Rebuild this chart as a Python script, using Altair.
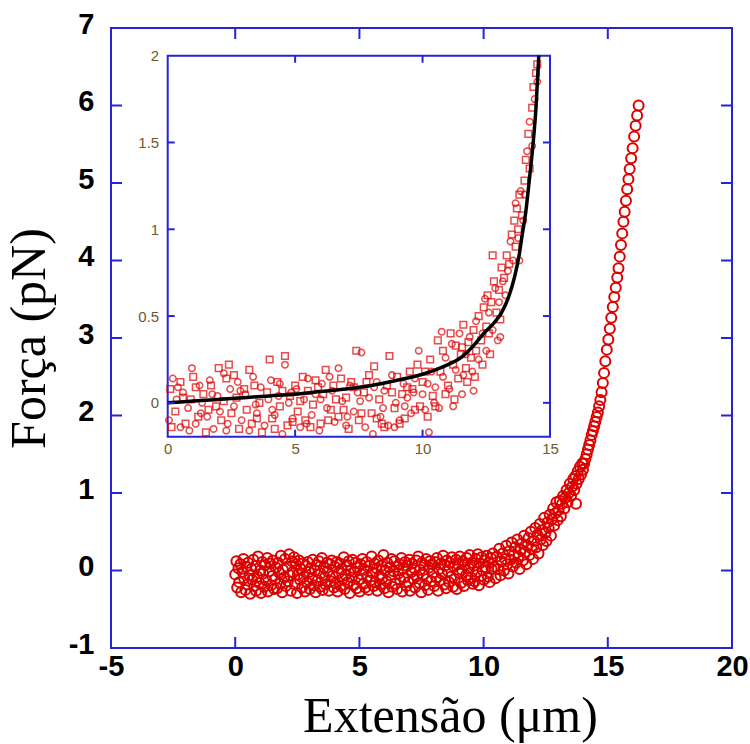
import altair as alt
import pandas as pd

# ---------------- main plot data (Extensão µm, Força pN) ----------------
flat_x = [0.00,0.05,0.08,0.13,0.16,0.21,0.24,0.29,0.33,0.36,0.41,0.44,0.49,0.52,0.57,0.60,0.65,0.68,0.73,0.77,
          0.81,0.84,0.89,0.92,0.97,1.01,1.04,1.09,1.12,1.17,1.21,1.24,1.29,1.32,1.37,1.41,1.44,1.49,1.52,1.57,
          1.61,1.64,1.69,1.72,1.77,1.81,1.84,1.89,1.92,1.97,2.01,2.04,2.09,2.12,2.17,2.21,2.24,2.29,2.32,2.37,
          2.41,2.44,2.49,2.52,2.57,2.61,2.64,2.69,2.72,2.77,2.81,2.84,2.89,2.92,2.97,3.01,3.04,3.09,3.12,3.17,
          3.21,3.24,3.29,3.32,3.37,3.41,3.44,3.49,3.52,3.57,3.61,3.64,3.69,3.72,3.77,3.81,3.84,3.89,3.92,3.97,
          4.01,4.04,4.09,4.12,4.17,4.21,4.24,4.29,4.32,4.37,4.41,4.44,4.49,4.52,4.57,4.61,4.64,4.69,4.72,4.77,
          4.81,4.84,4.89,4.92,4.97,5.01,5.04,5.09,5.12,5.17,5.21,5.24,5.29,5.32,5.37,5.41,5.44,5.49,5.52,5.57,
          5.61,5.64,5.69,5.72,5.77,5.81,5.84,5.89,5.92,5.97,6.01,6.04,6.09,6.12,6.17,6.21,6.24,6.29,6.32,6.37,
          6.41,6.44,6.49,6.52,6.57,6.61,6.64,6.69,6.72,6.77,6.81,6.84,6.89,6.92,6.97,7.01,7.04,7.09,7.12,7.17,
          7.21,7.24,7.29,7.32,7.37,7.41,7.44,7.49,7.52,7.57,7.61,7.64,7.69,7.72,7.77,7.81,7.84,7.89,7.92,7.97,
          8.01,8.04,8.09,8.12,8.17,8.21,8.24,8.29,8.32,8.37,8.41,8.44,8.49,8.52,8.57,8.61,8.64,8.69,8.72,8.77,
          8.81,8.84,8.89,8.92,8.97,9.01,9.04,9.09,9.12,9.17,9.21,9.24,9.29,9.32,9.37,9.41,9.44,9.49,9.52,9.57,
          9.61,9.64,9.69,9.72,9.77,9.81,9.84,9.89,9.92,9.97,10.01,10.04,10.09,10.12,10.17,10.21,10.24,10.29,10.32,10.37]
flat_y = [-0.05,0.12,-0.22,0.03,-0.15,0.08,-0.28,-0.02,0.15,-0.10,-0.25,0.05,-0.18,0.10,-0.06,-0.30,0.02,-0.12,0.14,-0.20,
          0.06,-0.26,-0.08,0.18,-0.16,0.00,-0.29,0.11,-0.04,-0.21,0.07,-0.13,0.16,-0.27,-0.01,0.09,-0.19,-0.07,0.13,-0.24,
          -0.11,0.04,-0.23,0.10,-0.03,-0.17,0.19,-0.28,0.01,-0.09,0.15,-0.20,0.05,-0.14,0.21,-0.06,-0.26,0.12,-0.02,0.17,
          -0.18,0.08,-0.29,-0.05,0.13,-0.12,0.02,-0.22,0.09,-0.08,-0.27,0.06,-0.15,0.11,-0.02,-0.24,0.03,-0.10,0.14,-0.19,
          0.00,-0.28,0.07,-0.13,0.12,-0.21,-0.04,0.16,-0.25,0.04,-0.09,-0.18,0.10,-0.01,-0.26,0.08,-0.14,0.13,-0.07,-0.22,
          0.05,-0.16,0.11,-0.27,-0.03,0.09,-0.20,0.02,-0.11,0.17,-0.24,-0.06,0.07,-0.15,0.12,-0.29,0.00,-0.09,0.14,-0.19,
          -0.02,0.10,-0.23,0.04,-0.12,-0.27,0.08,-0.05,0.15,-0.17,0.01,-0.22,0.11,-0.08,-0.25,0.06,-0.13,0.18,-0.03,-0.20,
          0.09,-0.15,0.03,-0.26,0.13,-0.07,-0.18,0.06,-0.10,0.20,-0.23,0.00,-0.14,0.10,-0.28,0.04,-0.06,0.15,-0.21,-0.01,
          0.12,-0.17,0.05,-0.24,-0.04,0.08,-0.12,0.16,-0.27,0.02,-0.09,0.11,-0.20,0.06,-0.15,0.14,-0.26,-0.02,0.09,-0.11,
          0.03,-0.22,0.13,-0.07,0.18,-0.16,0.01,-0.28,0.10,-0.05,0.07,-0.19,0.15,-0.11,-0.25,0.04,0.12,-0.14,0.08,-0.03,
          -0.20,0.11,-0.09,0.16,-0.26,0.02,-0.13,0.09,-0.04,0.19,-0.18,0.06,-0.23,0.13,-0.01,-0.15,0.10,-0.08,0.17,-0.21,
          0.05,-0.11,0.14,-0.24,0.08,-0.03,0.18,-0.16,0.01,0.12,-0.20,0.07,-0.06,0.16,-0.13,0.03,0.20,-0.09,0.10,-0.17,
          0.06,-0.14,0.15,-0.02,0.21,-0.19,0.09,-0.07,0.17,0.00,-0.12,0.13,0.04,0.19,-0.08,0.10,-0.15,0.16,0.02,0.22]

rise_x = [10.42,10.48,10.53,10.58,10.63,10.68,10.72,10.77,10.82,10.86,10.91,10.95,11.00,11.04,11.09,11.13,11.18,11.22,
          11.27,11.31,11.36,11.40,11.45,11.49,11.54,11.58,11.63,11.67,11.72,11.76,11.81,11.85,11.90,11.94,11.99,12.03,
          12.08,12.12,12.17,12.21,12.26,12.30,12.35,12.39,12.44,12.48,12.53,12.57,12.62,12.66,12.71,12.75,12.80,12.84,
          12.89,12.93,12.98,13.02,13.07,13.11,13.16,13.20,13.25,13.29,13.34,13.38,13.43,13.47,13.52,13.56,13.61,13.65,
          13.70,13.74,13.79,13.83,13.88,13.92,13.97,13.72,
          14.00,14.05,14.10,14.15,14.20,14.25,14.30,14.35,14.40,14.45,14.50,14.55,14.60,14.65,14.70,14.75,14.80,14.85,
          14.90,14.96,15.02,15.08,15.14,15.20,15.26,15.32,15.38,15.43,15.48,15.53,15.58,15.63,15.68,15.73,15.78,15.83,
          15.88,15.94,16.00,16.06,16.12,16.18,16.24]
rise_y = [0.05,-0.10,0.18,0.02,0.28,-0.06,0.12,0.22,0.00,0.15,0.32,0.08,-0.04,0.25,0.14,0.36,0.05,0.20,
          0.30,0.10,0.40,0.18,0.02,0.27,0.35,0.13,0.45,0.24,0.08,0.32,0.42,0.20,0.50,0.28,0.15,0.38,
          0.55,0.30,0.46,0.22,0.60,0.40,0.52,0.33,0.68,0.48,0.38,0.62,0.55,0.72,0.45,0.66,0.80,0.58,
          0.74,0.88,0.65,0.78,0.90,0.70,0.86,0.96,0.80,0.94,1.04,0.88,1.00,1.12,0.96,1.08,1.18,1.04,
          1.22,1.12,1.28,1.18,1.34,1.24,1.38,0.86,
          1.30,1.38,1.44,1.50,1.56,1.62,1.68,1.75,1.80,1.86,1.92,1.98,2.04,2.12,2.20,2.30,2.42,2.55,
          2.70,2.85,2.98,3.12,3.26,3.40,3.53,3.65,3.78,3.90,4.05,4.20,4.35,4.50,4.63,4.77,4.92,5.05,
          5.18,5.32,5.45,5.60,5.74,5.87,6.00]

main_xticks = [-5, 0, 5, 10, 15, 20]
main_yticks = [-1, 0, 1, 2, 3, 4, 5, 6, 7]

# ---------------- inset data ----------------
sq_x = [0.1,0.3,0.5,0.7,0.9,1.0,1.2,1.4,1.5,1.7,1.9,2.0,2.1,2.3,2.4,2.5,2.7,2.8,3.0,3.1,3.3,3.4,3.6,3.7,3.9,4.0,
        4.1,4.3,4.4,4.6,4.7,4.8,5.0,5.1,5.3,5.4,5.5,5.7,5.8,6.0,6.1,6.2,6.4,6.5,6.7,6.8,7.0,7.1,7.3,7.4,7.5,7.7,
        7.8,8.0,8.1,8.3,8.4,8.6,8.7,8.9,9.0,9.2,9.3,9.5,9.6,9.8,9.9,10.0,10.2,10.3,10.4,10.6,10.7,10.8,11.0,11.1,
        11.2,11.3,11.4,11.5,11.6,11.7,11.8,11.9,12.0,12.1,12.2,12.3,12.4,12.5,12.55,12.6,12.7,12.8,12.9,13.0,13.1,
        13.2,13.3,13.4,13.5,13.6,13.65,13.7,13.75,13.8,13.9,14.0,14.05,14.15,14.2,14.3,14.35,14.45,14.5,
        0.15,0.6,1.1,1.6,2.2,2.6,3.2,3.5,4.2,4.5,4.9,5.2,5.6,5.9,6.3,6.6,6.9,7.2,7.6,7.9,8.2,8.5,8.8,9.1,9.4,9.7,
        10.1,10.5,10.9,11.25,11.55,11.75,12.05,12.35,12.65,12.75,13.05]
sq_y = [0.08,-0.05,0.12,-0.12,0.02,0.15,-0.08,0.05,-0.17,0.10,-0.02,0.20,-0.10,0.14,0.22,-0.06,0.03,-0.15,0.08,-0.04,
        -0.12,0.10,0.00,-0.17,0.06,0.25,-0.09,0.12,-0.02,0.27,-0.13,0.04,0.10,-0.05,0.15,-0.10,0.07,-0.01,0.13,-0.12,
        0.05,0.19,-0.04,0.10,-0.08,0.14,0.03,-0.15,0.09,0.30,-0.10,0.06,0.12,-0.06,0.21,0.02,-0.12,0.10,0.27,-0.03,
        0.15,0.05,-0.09,0.18,0.08,0.22,-0.02,0.12,-0.08,0.25,0.04,0.36,0.18,0.30,0.10,0.40,0.22,0.33,0.14,0.28,0.45,
        0.20,0.35,0.26,0.42,0.30,0.50,0.36,0.55,0.44,0.62,0.40,0.58,0.70,0.52,0.65,0.78,0.72,0.85,0.80,0.97,1.05,
        0.90,1.12,1.00,1.20,1.08,1.28,1.40,1.55,1.35,1.70,1.82,1.90,1.95,
        -0.14,0.03,0.09,-0.04,0.01,0.16,0.19,-0.09,-0.15,0.07,-0.11,0.01,-0.14,0.09,-0.10,0.02,-0.04,0.12,-0.06,0.16,
        -0.09,-0.14,0.06,-0.12,0.09,-0.04,0.18,-0.02,0.05,0.02,0.32,0.12,0.15,0.22,0.28,0.85,0.48]

ci_x = [0.05,0.2,0.35,0.5,0.6,0.8,0.95,1.1,1.25,1.35,1.55,1.65,1.8,1.95,2.05,2.2,2.35,2.45,2.6,2.75,2.9,3.05,3.2,
        3.35,3.5,3.65,3.8,3.95,4.05,4.2,4.35,4.5,4.6,4.75,4.9,5.05,5.2,5.35,5.5,5.65,5.8,5.95,6.05,6.25,6.35,6.55,
        6.7,6.85,7.0,7.15,7.3,7.45,7.6,7.75,7.9,8.05,8.2,8.35,8.5,8.65,8.8,8.95,9.1,9.25,9.4,9.55,9.7,9.85,10.0,
        10.1,10.25,10.35,10.5,10.65,10.75,10.9,11.05,11.15,11.3,11.45,11.55,11.7,11.85,11.95,12.1,12.2,12.35,12.45,
        12.6,12.75,12.85,13.0,13.05,13.15,13.25,13.35,13.45,13.55,13.65,13.75,13.85,13.95,14.0,14.1,14.2,14.3,14.4,14.5,
        0.4,0.85,1.3,1.75,2.3,2.85,3.45,4.1,4.4,4.85,5.45,6.0,6.45,7.05,7.55,8.1,8.45,8.9,9.3,9.65,10.2,10.45,10.8,
        11.2,11.6,12.0,12.5,12.95,13.8]
ci_y = [-0.10,0.14,0.02,-0.14,0.06,-0.03,0.20,-0.12,0.10,0.00,-0.08,0.13,-0.15,0.04,-0.05,0.17,-0.12,0.08,-0.02,0.12,
        -0.10,0.05,-0.16,0.15,-0.06,0.09,-0.13,0.02,0.13,-0.07,0.04,-0.18,0.22,0.00,-0.09,0.08,-0.14,0.02,0.14,-0.07,
        0.05,-0.16,0.11,-0.03,0.15,-0.11,0.20,0.01,-0.13,0.10,-0.05,0.06,0.29,-0.14,0.03,-0.18,0.12,-0.08,0.07,-0.13,
        0.16,0.00,-0.10,0.11,0.03,-0.06,0.14,0.30,0.05,-0.04,-0.17,0.18,0.09,-0.03,0.41,0.26,0.08,0.34,0.19,0.40,
        0.05,0.28,0.38,0.18,0.47,0.25,0.40,0.60,0.52,0.42,0.66,0.58,0.38,0.70,0.62,0.76,0.93,0.82,1.15,0.95,1.22,
        1.05,1.20,1.45,1.62,1.48,1.75,1.85,
        0.09,-0.16,-0.06,0.05,-0.16,0.07,-0.01,-0.04,0.11,0.06,-0.12,0.02,0.07,-0.08,0.01,0.09,-0.03,-0.14,-0.02,0.06,
        0.11,0.00,0.15,-0.02,0.16,0.07,0.30,0.36,0.82]

fit_x = [0, 1, 2, 3, 4, 5, 6, 7, 8, 9, 10, 10.5, 11, 11.5, 12, 12.4, 12.8, 13.1, 13.4, 13.6, 13.8, 13.9,
         14.05, 14.2, 14.34, 14.45, 14.56]
fit_y = [0.0, 0.01, 0.02, 0.03, 0.04, 0.05, 0.065, 0.08, 0.10, 0.13, 0.165, 0.19, 0.22, 0.26, 0.33, 0.40, 0.46,
         0.52, 0.62, 0.72, 0.86, 0.96, 1.10, 1.30, 1.50, 1.70, 2.00]

inset_xticks = [0, 5, 10, 15]
inset_yticks = [0, 0.5, 1, 1.5, 2]
inset_domain_x = [0, 15]
inset_domain_y = [-0.195, 2.0]

# ---------------- layout / style ----------------
W, H = 621, 620
BLUE = "#2424d8"
RED = "#dd0000"
INSET_LABEL = "#6e5a30"
IX0, IX1 = 56.7, 439.0      # inset plot range in pixels (x)
IY0, IY1 = 408.7, 27.7      # inset plot range in pixels (y, bottom/top)
LABEL_FONT = "Liberation Sans Narrow, Arial Narrow, Liberation Sans"

xs_main = alt.Scale(domain=[-5, 20], nice=False, zero=False)
ys_main = alt.Scale(domain=[-1, 7], nice=False, zero=False)

ax_main_x = alt.Axis(
    values=main_xticks, grid=False, domain=False, ticks=False, tickSize=0,
    labelExpr="datum.value + ''",
    labelFont=LABEL_FONT, labelFontSize=29, labelFontWeight="bold", labelColor="black",
    labelPadding=4, labelFlush=False,
    title="Extensão (μm)", titleFont="Liberation Serif", titleFontSize=50,
    titleFontWeight="normal", titleColor="black", titlePadding=10, titleX=339)
ax_main_y = alt.Axis(
    values=main_yticks, grid=False, domain=False, ticks=False, tickSize=0,
    labelExpr="datum.value + ''",
    labelFont=LABEL_FONT, labelFontSize=29, labelFontWeight="bold", labelColor="black",
    labelPadding=17, labelOffset=-4, labelFlush=False,
    title="Força (pN)", titleFont="Liberation Serif", titleFontSize=50,
    titleFontWeight="normal", titleColor="black", titlePadding=14)

main_df = pd.DataFrame({"x": flat_x + rise_x, "y": flat_y + rise_y})
main_pts = alt.Chart(main_df).mark_point(
    shape="circle", filled=False, color=RED, size=100, strokeWidth=2, opacity=1
).encode(
    x=alt.X("x:Q", scale=xs_main, axis=ax_main_x),
    y=alt.Y("y:Q", scale=ys_main, axis=ax_main_y),
)

mxt = pd.DataFrame({"v": [0, 5, 10, 15]})
myt = pd.DataFrame({"v": [0, 1, 2, 3, 4, 5, 6]})
tk = dict(color=BLUE, strokeWidth=2)
main_tx_b = alt.Chart(mxt).mark_rule(**tk).encode(
    x=alt.X("v:Q", scale=xs_main, axis=ax_main_x), y=alt.value(H), y2=alt.value(H - 11))
main_tx_t = alt.Chart(mxt).mark_rule(**tk).encode(
    x=alt.X("v:Q", scale=xs_main, axis=ax_main_x), y=alt.value(0), y2=alt.value(11))
main_ty_l = alt.Chart(myt).mark_rule(**tk).encode(
    y=alt.Y("v:Q", scale=ys_main, axis=ax_main_y), x=alt.value(0), x2=alt.value(11))
main_ty_r = alt.Chart(myt).mark_rule(**tk).encode(
    y=alt.Y("v:Q", scale=ys_main, axis=ax_main_y), x=alt.value(W), x2=alt.value(W - 11))

main = alt.layer(main_pts, main_tx_b, main_tx_t, main_ty_l, main_ty_r)

# ---------------- inset ----------------
xs_in = alt.Scale(domain=inset_domain_x, range=[IX0, IX1], nice=False, zero=False)
ys_in = alt.Scale(domain=inset_domain_y, range=[IY0, IY1], nice=False, zero=False)

ax_in_x = alt.Axis(
    orient="bottom", offset=IY0 - H, values=inset_xticks, grid=False, domain=False,
    ticks=False, tickSize=0, labelFont="Liberation Sans", labelFontSize=15,
    labelColor=INSET_LABEL, labelPadding=5, labelFlush=False, title=None)
ax_in_y = alt.Axis(
    orient="left", offset=-IX0, values=inset_yticks, format="~g", grid=False, domain=False,
    ticks=False, tickSize=0, labelFont="Liberation Sans", labelFontSize=15,
    labelColor=INSET_LABEL, labelPadding=9, labelFlush=False, title=None)

frame_df = pd.DataFrame({"x0": [inset_domain_x[0]], "x1": [inset_domain_x[1]],
                         "y0": [inset_domain_y[0]], "y1": [inset_domain_y[1]]})
inset_bg = alt.Chart(frame_df).mark_rect(fill="white", stroke=BLUE, strokeWidth=2).encode(
    x=alt.X("x0:Q", scale=xs_in, axis=ax_in_x), x2="x1:Q",
    y=alt.Y("y0:Q", scale=ys_in, axis=ax_in_y), y2="y1:Q",
)

sq_df = pd.DataFrame({"x": sq_x, "y": sq_y})
ci_df = pd.DataFrame({"x": ci_x, "y": ci_y})
fit_df = pd.DataFrame({"x": fit_x, "y": fit_y})

inset_sq = alt.Chart(sq_df).mark_point(shape="square", filled=False, color=RED, size=44, strokeWidth=1.5).encode(
    x=alt.X("x:Q", scale=xs_in, axis=ax_in_x), y=alt.Y("y:Q", scale=ys_in, axis=ax_in_y))
inset_ci = alt.Chart(ci_df).mark_point(shape="circle", filled=False, color=RED, size=42, strokeWidth=1.5).encode(
    x=alt.X("x:Q", scale=xs_in, axis=ax_in_x), y=alt.Y("y:Q", scale=ys_in, axis=ax_in_y))
inset_fit = alt.Chart(fit_df).mark_line(color="black", strokeWidth=3.5, interpolate="monotone").encode(
    x=alt.X("x:Q", scale=xs_in, axis=ax_in_x), y=alt.Y("y:Q", scale=ys_in, axis=ax_in_y))

ixt = pd.DataFrame({"v": [5, 10]})
iyt = pd.DataFrame({"v": [0, 0.5, 1, 1.5]})
itk = dict(color=BLUE, strokeWidth=2)
in_tx_b = alt.Chart(ixt).mark_rule(**itk).encode(
    x=alt.X("v:Q", scale=xs_in, axis=ax_in_x), y=alt.value(IY0), y2=alt.value(IY0 - 7))
in_tx_t = alt.Chart(ixt).mark_rule(**itk).encode(
    x=alt.X("v:Q", scale=xs_in, axis=ax_in_x), y=alt.value(IY1), y2=alt.value(IY1 + 7))
in_ty_l = alt.Chart(iyt).mark_rule(**itk).encode(
    y=alt.Y("v:Q", scale=ys_in, axis=ax_in_y), x=alt.value(IX0), x2=alt.value(IX0 + 7))
in_ty_r = alt.Chart(iyt).mark_rule(**itk).encode(
    y=alt.Y("v:Q", scale=ys_in, axis=ax_in_y), x=alt.value(IX1), x2=alt.value(IX1 - 7))

inset = alt.layer(inset_bg, inset_ci, inset_sq, inset_fit, in_tx_b, in_tx_t, in_ty_l, in_ty_r)

chart = alt.layer(main, inset).resolve_scale(x="independent", y="independent").properties(
    width=W, height=H, autosize="none",
    padding={"left": 111, "top": 28, "right": 18, "bottom": 96},
    background="white",
).configure_view(stroke=BLUE, strokeWidth=2)

chart.save("out.html", embed_options={"renderer": "svg", "actions": False})
